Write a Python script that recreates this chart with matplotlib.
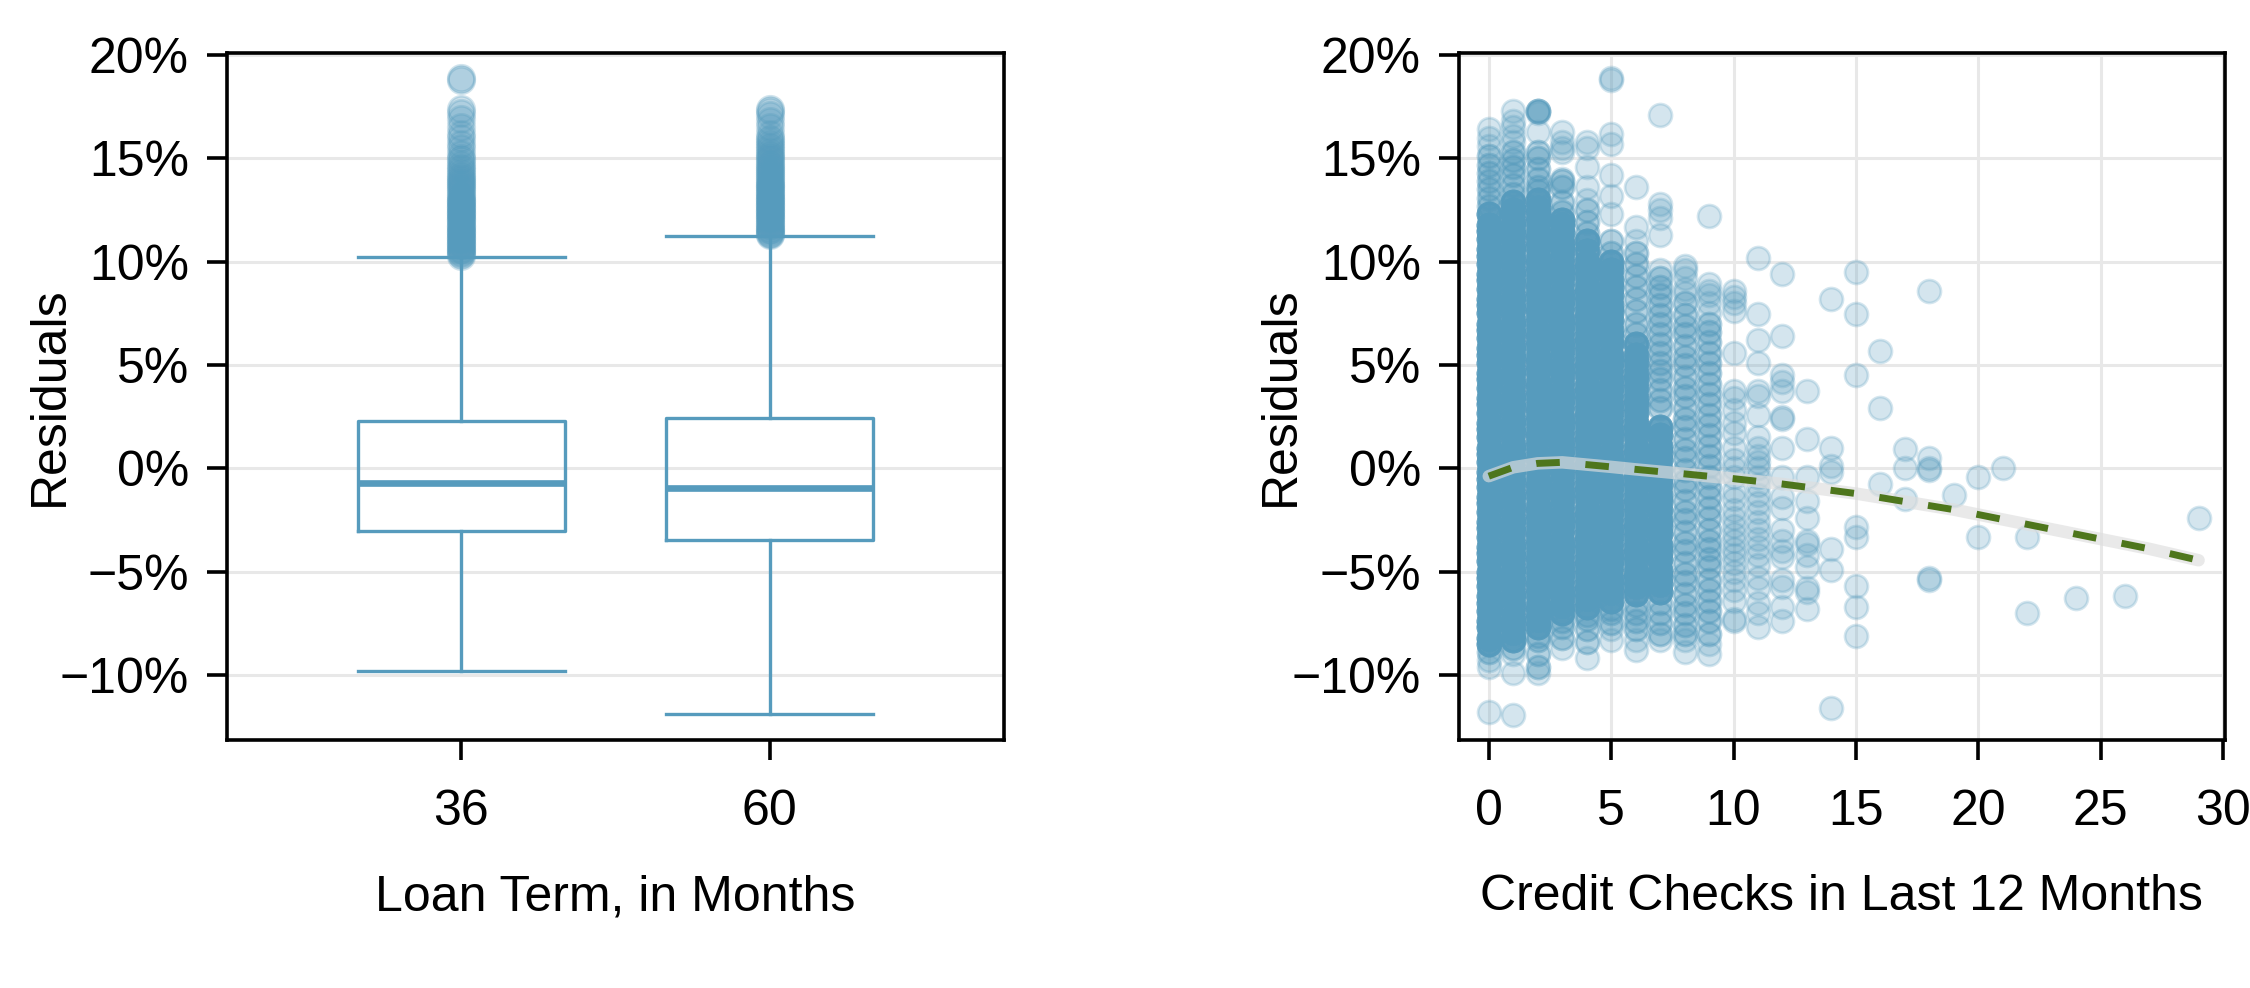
import matplotlib
matplotlib.use("Agg")
import matplotlib.pyplot as plt

plt.rcParams['font.family'] = ['Liberation Sans', 'DejaVu Sans']
plt.rcParams['font.size'] = 36

# ---------------- data (residuals in %) ----------------
loan_terms = ["36", "60"]
# five-number box summaries
box_whislo = [-9.79, -11.9]
box_q1 = [-3.03, -3.45]
box_med = [-0.73, -0.94]
box_q3 = [2.27, 2.42]
box_whishi = [10.25, 11.25]
outliers_36 = [10.3, 10.35, 10.4, 10.5, 10.55, 10.6, 10.7, 10.8, 10.85, 10.9, 11.0, 11.1, 11.15,
               11.2, 11.3, 11.4, 11.45, 11.5, 11.6, 11.7, 11.75, 11.8, 11.9, 12.0, 12.05, 12.1,
               12.2, 12.3, 12.35, 12.4, 12.5, 12.6, 12.65, 12.7, 12.8, 12.9, 12.95, 13.0, 13.1,
               13.2, 13.3, 13.4, 13.5, 13.6, 13.7, 13.8, 13.9, 14.0, 14.1, 14.2, 14.35, 14.5,
               14.6, 14.75, 14.9, 15.0, 15.2, 15.5, 15.7, 16.0, 16.2, 16.5, 16.9, 17.2, 17.4,
               18.8, 18.9]
outliers_60 = [11.3, 11.35, 11.4, 11.5, 11.55, 11.6, 11.7, 11.8, 11.85, 11.9, 12.0, 12.1, 12.15,
               12.2, 12.3, 12.4, 12.45, 12.5, 12.6, 12.7, 12.75, 12.8, 12.9, 13.0, 13.05, 13.1,
               13.2, 13.3, 13.35, 13.4, 13.5, 13.6, 13.65, 13.7, 13.8, 13.9, 14.0, 14.1, 14.2,
               14.3, 14.4, 14.5, 14.6, 14.7, 14.8, 14.9, 15.0, 15.1, 15.2, 15.35, 15.5, 15.6,
               15.75, 15.9, 16.0, 16.2, 16.5, 16.8, 17.1, 17.3, 17.4]

# credit checks vs residuals: dense (heavily stacked), medium and single observations
stack_counts = {"dense": 8, "medium": 2, "single": 1}
resid_dense = {
    0: [-8.5, -8.2, -7.7, -7.4, -6.9, -6.5, -6.2, -5.7, -5.3, -5.0, -4.5, -4.1, -3.8, -3.3, -2.9,
        -2.6, -2.1, -1.7, -1.4, -0.9, -0.5, -0.2, 0.3, 0.7, 1.0, 1.5, 1.9, 2.2, 2.7, 3.1, 3.4, 3.9,
        4.3, 4.6, 5.1, 5.5, 5.8, 6.3, 6.7, 7.0, 7.5, 7.9, 8.2, 8.7, 9.1, 9.4, 9.9, 10.3, 10.6,
        11.1, 11.5, 11.8, 12.3],
    1: [-8.3, -7.9, -7.5, -7.2, -6.7, -6.3, -6.0, -5.5, -5.1, -4.8, -4.3, -3.9, -3.6, -3.1, -2.7,
        -2.4, -1.9, -1.5, -1.2, -0.7, -0.3, 0.0, 0.5, 0.9, 1.2, 1.7, 2.1, 2.4, 2.9, 3.3, 3.6, 4.1,
        4.5, 4.8, 5.3, 5.7, 6.0, 6.5, 6.9, 7.2, 7.7, 8.1, 8.4, 8.9, 9.3, 9.6, 10.1, 10.5, 10.8,
        11.3, 11.7, 12.0, 12.5, 12.9],
    2: [-7.7, -7.3, -6.9, -6.6, -6.1, -5.7, -5.4, -4.9, -4.5, -4.2, -3.7, -3.3, -3.0, -2.5, -2.1,
        -1.8, -1.3, -0.9, -0.6, -0.1, 0.3, 0.6, 1.1, 1.5, 1.8, 2.3, 2.7, 3.0, 3.5, 3.9, 4.2, 4.7,
        5.1, 5.4, 5.9, 6.3, 6.6, 7.1, 7.5, 7.8, 8.3, 8.7, 9.0, 9.5, 9.9, 10.2, 10.7, 11.1, 11.4,
        11.9, 12.3, 12.6, 13.0],
    3: [-7.0, -6.6, -6.2, -5.9, -5.4, -5.0, -4.7, -4.2, -3.8, -3.5, -3.0, -2.6, -2.3, -1.8, -1.4,
        -1.1, -0.6, -0.2, 0.1, 0.6, 1.0, 1.3, 1.8, 2.2, 2.5, 3.0, 3.4, 3.7, 4.2, 4.6, 4.9, 5.4,
        5.8, 6.1, 6.6, 7.0, 7.3, 7.8, 8.2, 8.5, 9.0, 9.4, 9.7, 10.2, 10.6, 10.9, 11.4, 11.8, 12.0],
    4: [-6.7, -6.3, -5.9, -5.6, -5.1, -4.7, -4.4, -3.9, -3.5, -3.2, -2.7, -2.3, -2.0, -1.5, -1.1,
        -0.8, -0.3, 0.1, 0.4, 0.9, 1.3, 1.6, 2.1, 2.5, 2.8, 3.3, 3.7, 4.0, 4.5, 4.9, 5.2, 5.7,
        6.1, 6.4, 6.9, 7.3, 7.6, 8.1, 8.5, 8.8, 9.3, 9.7, 10.0, 10.5, 11.0],
    5: [-6.4, -6.0, -5.6, -5.3, -4.8, -4.4, -4.1, -3.6, -3.2, -2.9, -2.4, -2.0, -1.7, -1.2, -0.8,
        -0.5, 0.0, 0.4, 0.7, 1.2, 1.6, 1.9, 2.4, 2.8, 3.1, 3.6, 4.0, 4.3, 4.8, 5.2, 5.5, 6.0,
        6.4, 6.7, 7.2, 7.6, 7.9, 8.4, 8.8, 9.1, 9.6, 10.0],
    6: [-6.1, -5.7, -5.3, -5.0, -4.5, -4.1, -3.8, -3.3, -2.9, -2.6, -2.1, -1.7, -1.4, -0.9, -0.5,
        -0.2, 0.3, 0.7, 1.0, 1.5, 1.9, 2.2, 2.7, 3.1, 3.4, 3.9, 4.3, 4.6, 5.1, 5.5, 6.0],
    7: [-6.0, -5.6, -5.2, -4.9, -4.4, -4.0, -3.7, -3.2, -2.8, -2.5, -2.0, -1.6, -1.3, -0.8, -0.4,
        -0.1, 0.4, 0.8, 1.1, 1.6, 2.0],
}
resid_medium = {
    0: [12.7, 13.1, 13.5, 13.9, 14.3, 14.7, 15.1, -8.9],
    1: [13.3, 13.7, 14.2, 14.6, 14.9, 15.3, -8.7],
    2: [13.4, 13.6, 14.0, 14.5, 15.0, 15.3, -8.1, -8.3, -9.0, -9.6, 17.3, 17.3],
    3: [12.4, 12.9, 13.6, 13.9, -7.4, -7.7, -8.2],
    4: [11.4, 11.9, 12.5, -7.1, -7.3, -7.8, -8.4],
    5: [10.4, 11.0, -6.8, -7.0, -7.5],
    6: [6.5, 7.0, 7.6, 8.2, 8.8, 9.3, 9.9, 10.4, -6.6, -7.0, -7.4, -7.8],
    7: [2.9, 3.3, 3.8, 4.3, 4.7, 5.1, 5.6, 6.0, 6.5, 7.0, 7.4, 7.9, 8.4, 8.8, 9.2,
        -6.5, -7.0, -7.5, -8.0],
    8: [-8.0, -7.6, -7.0, -6.6, -6.1, -5.5, -5.1, -4.6, -4.0, -3.6, -3.1, -2.5, -2.1, -1.6,
        -1.0, -0.6, -0.1, 0.5, 0.9, 1.4, 2.0, 2.4, 2.9, 3.5, 3.9, 4.4, 5.0, 5.4, 5.9, 6.5, 6.9,
        7.4, 8.0],
    9: [-8.0, -7.4, -6.9, -6.4, -5.9, -5.4, -4.8, -4.4, -3.9, -3.5, -3.0, -2.4, -1.9, -1.4,
        -0.9, -0.4, 0.1, 0.6, 1.1, 1.6, 2.1, 2.6, 3.1, 3.6, 4.1, 4.6, 5.1, 5.6, 6.1, 6.6, 7.0],
}
resid_single = {
    0: [-11.8, -9.6, -9.3, 15.6, 16.0, 16.4],
    1: [-11.95, -9.9, -9.0, 15.8, 16.1, 16.5, 16.8, 17.3],
    2: [-9.9, 16.3, 17.2],
    3: [-8.7, 14.0, 15.3, 15.5, 15.8, 16.3],
    4: [-9.2, 13.0, 13.6, 14.6, 15.5, 15.8],
    5: [-8.3, -7.8, 12.3, 13.2, 14.2, 15.7, 16.2, 18.8, 18.9],
    6: [-8.3, -8.8, 11.0, 11.7, 13.6],
    7: [-8.3, 9.6, 11.3, 12.1, 12.5, 12.8, 17.1],
    8: [-8.3, -8.9, 8.5, 8.7, 9.2, 9.6, 9.8],
    9: [-8.5, -9.0, 7.5, 8.0, 8.4, 8.6, 8.9, 12.2],
    10: [8.6, 8.3, 8.0, 7.6, 5.6, 3.75, 3.4, 2.8, 2.2, 1.7, 1.0, 0.4, 0.0, -0.4, -1.1, -1.5,
         -2.0, -2.4, -2.8, -3.2, -3.5, -3.9, -4.2, -4.6, -5.0, -5.4, -5.9, -6.4, -7.3, -7.4],
    11: [10.2, 7.45, 6.2, 5.1, 3.75, 3.5, 2.6, 1.5, 1.0, 0.6, 0.3, 0.0, -0.4, -0.8, -1.3, -1.7,
         -2.1, -2.6, -3.0, -3.4, -3.8, -4.2, -4.7, -5.3, -5.8, -6.5, -7.0, -7.7],
    12: [9.4, 6.4, 4.5, 4.2, 3.75, 2.5, 2.4, 1.0, -0.4, -1.4, -1.9, -3.0, -3.5, -4.0, -4.3,
         -5.4, -5.75, -6.7, -7.4],
    13: [3.75, 1.4, -0.4, -1.6, -2.4, -3.5, -3.65, -4.2, -4.8, -5.8, -6.0, -6.8],
    14: [8.2, 1.0, 0.1, -0.2, -3.9, -4.9, -11.6],
    15: [9.5, 7.45, 4.5, -2.85, -3.3, -5.7, -6.7, -8.1],
    16: [5.7, 2.9, -0.76],
    17: [0.93, 0.04, -1.5],
    18: [8.6, 0.5, 0.0, -0.1, -5.3, -5.4],
    19: [-1.3],
    20: [-0.44, -3.3],
    21: [0.04],
    22: [-3.34, -7.0],
    24: [-6.3],
    26: [-6.2],
    29: [-2.4],
}
# smooth (loess-like) trend
trend_x = [0, 1, 2, 3, 4, 5, 6, 8, 10, 12, 15, 19, 23, 27, 29]
trend_y = [-0.38, 0.05, 0.24, 0.29, 0.18, 0.07, -0.05, -0.27, -0.5, -0.76, -1.22, -2.0,
           -2.95, -3.9, -4.45]

y_ticks = [-10, -5, 0, 5, 10, 15, 20]
x_ticks_right = [0, 5, 10, 15, 20, 25, 30]

# ---------------- style ----------------
BLUE = '#569BBD'
GREEN = '#4E761C'
GRID = '#e8e8e8'
SPINE_LW = 2.6
TICK_LEN = 14.4


def pct(v):
    s = f"{abs(v):g}%"
    return ("\u2212" + s) if v < 0 else s


def style_axes(ax):
    for sp in ax.spines.values():
        sp.set_linewidth(SPINE_LW)
        sp.set_color('black')
    ax.tick_params(axis='both', length=TICK_LEN, width=SPINE_LW, color='black', labelsize=36)
    ax.tick_params(axis='y', pad=13)
    ax.tick_params(axis='x', pad=21)
    ax.set_yticks(y_ticks)
    ax.set_yticklabels([pct(v) for v in y_ticks])
    ax.set_ylim(-13.15, 20.1)
    ax.set_axisbelow(True)


fig = plt.figure(figsize=(22.5, 9.88), dpi=100)
ax1 = fig.add_axes([0.1009, 0.2510, 0.3453, 0.6953])
ax2 = fig.add_axes([0.6484, 0.2510, 0.3404, 0.6953])

# ---------------- left: boxplots ----------------
stats = []
fliers = [outliers_36, outliers_60]
for i, lab in enumerate(loan_terms):
    stats.append(dict(label=lab, whislo=box_whislo[i], q1=box_q1[i], med=box_med[i],
                      q3=box_q3[i], whishi=box_whishi[i], fliers=fliers[i]))
ax1.yaxis.grid(True, color=GRID, lw=2.2)
ax1.bxp(stats, positions=[1, 2], widths=0.67, capwidths=[0.67, 0.67], showfliers=True,
        boxprops=dict(color=BLUE, lw=2.4),
        whiskerprops=dict(color=BLUE, lw=2.4),
        capprops=dict(color=BLUE, lw=2.4),
        medianprops=dict(color=BLUE, lw=4.8),
        flierprops=dict(marker='o', markersize=19, markerfacecolor=BLUE,
                        markeredgecolor=BLUE, markeredgewidth=2.0, alpha=0.27, linestyle='none'))
ax1.set_xlim(0.24, 2.76)
ax1.set_xticks([1, 2])
ax1.set_xticklabels(loan_terms)
style_axes(ax1)
ax1.set_xlabel("Loan Term, in Months", va='baseline')
ax1.xaxis.set_label_coords(0.5, -0.2475)
ax1.set_ylabel("Residuals", va='center')
ax1.yaxis.set_label_coords(-0.228, 0.5)

# ---------------- right: scatter ----------------
xs, ys = [], []
for tier, d in (("dense", resid_dense), ("medium", resid_medium), ("single", resid_single)):
    n = stack_counts[tier]
    for k, vals in d.items():
        for v in vals:
            xs.extend([k] * n)
            ys.extend([v] * n)
ax2.grid(True, color=GRID, lw=2.2)
ax2.scatter(xs, ys, s=272, color=BLUE, alpha=0.25, edgecolors=BLUE, linewidths=2.0, zorder=2)
ax2.plot(trend_x, trend_y, color='#dedede', alpha=0.65, lw=9, solid_capstyle='round', zorder=3)
ax2.plot(trend_x, trend_y, color=GREEN, lw=5, dashes=(3.4, 3.7), zorder=4)
ax2.set_xlim(-1.22, 30.07)
ax2.set_xticks(x_ticks_right)
ax2.set_xticklabels([str(v) for v in x_ticks_right])
style_axes(ax2)
ax2.set_xlabel("Credit Checks in Last 12 Months", va='baseline')
ax2.xaxis.set_label_coords(0.5, -0.2475)
ax2.set_ylabel("Residuals", va='center')
ax2.yaxis.set_label_coords(-0.2324, 0.5)

fig.savefig("out.png", dpi=100)
